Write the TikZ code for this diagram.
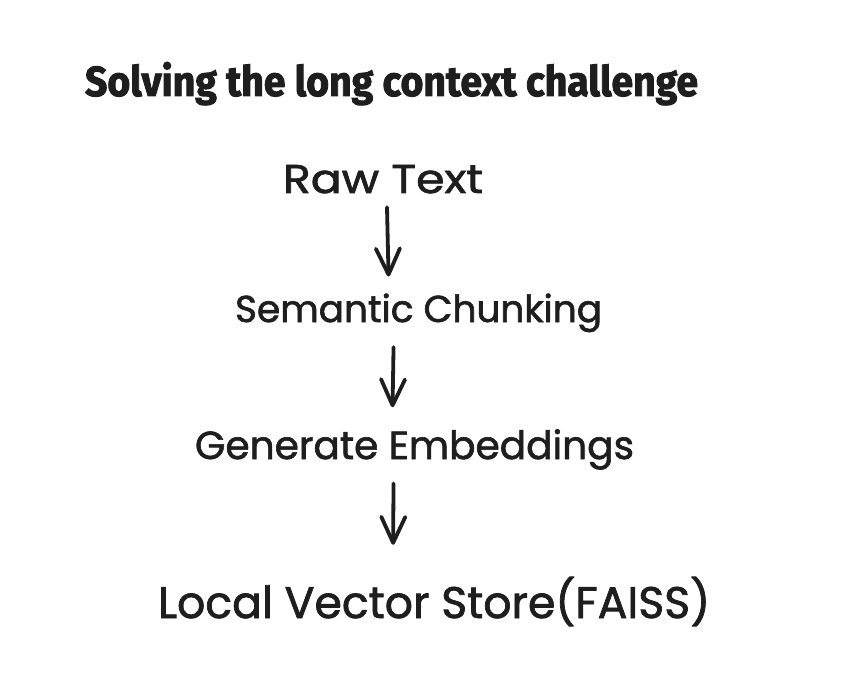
\documentclass[tikz,border=0pt]{standalone}
\usepackage{fontspec}
\setmainfont{Poppins}[FakeBold=1.6]
\newfontfamily\titlefont{Fira Sans}[BoldFeatures={FakeBold=2.2}]
\usetikzlibrary{arrows.meta,calc}
\definecolor{ink}{HTML}{1E1E1E}
\tikzset{
  lbl/.style={inner sep=0pt, outer sep=0pt, text=ink, anchor=base west},
  arr/.style={draw=ink, line width=3.8pt, line cap=round,
    -{Straight Barb[length=26pt,width=24pt,line width=3.8pt,round]}}
}
\begin{document}
\begin{tikzpicture}[x=1pt,y=-1pt]
\useasboundingbox[fill=white] (0,0) rectangle (864,676);
\node[lbl] (title) at (85,96) {\resizebox{613pt}{34pt}{\titlefont\bfseries Solving the long context challenge}};
\node[lbl] (raw) at (283,193) {\resizebox{200pt}{28pt}{Raw Text}};
\node[lbl] (sem) at (235,322) {\resizebox{367pt}{!}{Semantic Chunking}};
\node[lbl] (gen) at (195,459) {\resizebox{439pt}{!}{Generate Embeddings}};
\node[lbl] (loc) at (158,618) {\resizebox{552pt}{!}{Local Vector Store(FAISS)}};
\draw[arr] ($(raw.south)+(4,14)$) -- ($(sem.north)+(-30,-17)$);
\draw[arr] ($(sem.south)+(-25,15)$) -- ($(gen.north)+(-22,-22)$);
\draw[arr] ($(gen.south)+(-21,14)$) -- ($(loc.north)+(-41,-32)$);
\end{tikzpicture}
\end{document}
